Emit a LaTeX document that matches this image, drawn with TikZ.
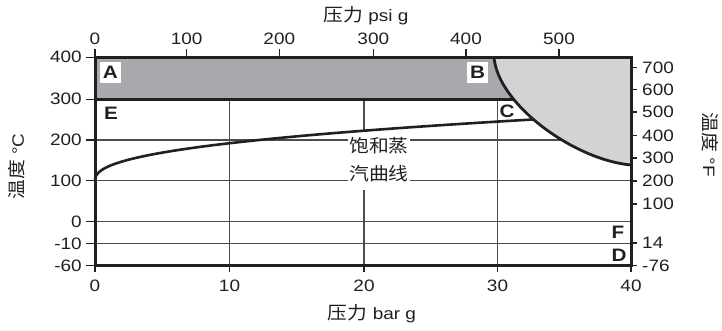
\documentclass[tikz,border=0pt]{standalone}
\usepackage{fontspec}
\setmainfont{Liberation Sans}[FakeStretch=1.15]
\newfontfamily\cjk{Noto Sans CJK SC}[FakeStretch=1.1]
\definecolor{ink}{RGB}{35,31,32}
\definecolor{bandgray}{RGB}{167,169,172}
\definecolor{capgray}{RGB}{209,211,212}

\begin{document}
\begin{tikzpicture}[x=1pt, y=-1pt,
  frame/.style={line width=3pt, draw=ink, line join=miter},
  gridline/.style={line width=1.1pt, draw=ink!80},
  tickmark/.style={line width=1.1pt, draw=ink},
  numlbl/.style={inner sep=0pt, text=ink, font=\fontsize{16.5}{18}\selectfont},
  zone/.style={inner sep=0pt, minimum width=21pt, minimum height=21.6pt, text=ink, font=\bfseries\fontsize{18}{20}\selectfont}]
\useasboundingbox (0,0) rectangle (722,330);
\coordinate (tl) at (95,57.3);
\coordinate (tr) at (631,57.3);
\coordinate (br) at (631,265.7);
\coordinate (capTop) at (494,57.3);
\coordinate (capEnd) at (631,165);
\coordinate (capMid) at (513.5,99.3);
\draw[gridline] (229.5,99.3) -- (229.5,265.7);
\draw[gridline] (364,99.3) -- (364,265.7);
\draw[gridline] (497.5,99.3) -- (497.5,265.7);
\draw[gridline] (95,140) -- (631,140);
\draw[gridline] (95,180.5) -- (631,180.5);
\draw[gridline] (95,221.7) -- (631,221.7);
\draw[gridline] (95,243.7) -- (631,243.7);
\fill[bandgray] (tl) rectangle (520,99.3);
\fill[capgray] (capTop) .. controls (498,105) and (575,160) .. (capEnd) -- (tr) -- cycle;
\node[fill=white, align=center, inner xsep=1pt, inner ysep=8pt, text=ink, font=\cjk\fontsize{18}{28}\selectfont] (satlbl) at (379,160) {饱和蒸\\汽曲线};
\draw[line width=2.6pt, ink] plot[domain=0.1:20.93, samples=60, smooth] ({95+\x*\x}, {181-4.99*pow(\x,0.826)});
\draw[frame] (95,99.3) -- (capMid);
\draw[line width=2.8pt, ink] (capTop) .. controls (498,105) and (575,160) .. (capEnd);
\draw[frame] (tl) rectangle (br);
\node[zone, fill=white] (A) at (110.3,72.5) {A};
\node[zone, fill=white] (B) at (477.5,72.5) {B};
\node[zone] (C) at (507,111.7) {C};
\node[zone] (E) at (111,113) {E};
\node[zone] (F) at (618,232.5) {F};
\node[zone] (D) at (619,255) {D};
\draw[tickmark] (86,57.3) -- (95,57.3);
\draw[tickmark] (86,99.3) -- (95,99.3);
\draw[tickmark] (86,140) -- (95,140);
\draw[tickmark] (86,180.5) -- (95,180.5);
\draw[tickmark] (86,221.7) -- (95,221.7);
\draw[tickmark] (86,243.7) -- (95,243.7);
\draw[tickmark] (86,265.7) -- (95,265.7);
\node[numlbl, anchor=east] (c400) at (82,57.3) {400};
\node[numlbl, anchor=east] (c300) at (82,99.3) {300};
\node[numlbl, anchor=east] (c200) at (82,140) {200};
\node[numlbl, anchor=east] (c100) at (82,180.5) {100};
\node[numlbl, anchor=east] (c0) at (82,221.7) {0};
\node[numlbl, anchor=east] (cm10) at (82,243.7) {-10};
\node[numlbl, anchor=east] (cm60) at (82,265.7) {-60};
\draw[tickmark] (631,67.5) -- (637,67.5);
\draw[tickmark] (631,89.5) -- (637,89.5);
\draw[tickmark] (631,112) -- (637,112);
\draw[tickmark] (631,135.5) -- (637,135.5);
\draw[tickmark] (631,158) -- (637,158);
\draw[tickmark] (631,181) -- (637,181);
\draw[tickmark] (631,204) -- (637,204);
\draw[tickmark] (631,243) -- (637,243);
\draw[tickmark] (631,265.7) -- (637,265.7);
\node[numlbl, anchor=west] (f700) at (642,67.5) {700};
\node[numlbl, anchor=west] (f600) at (642,89.5) {600};
\node[numlbl, anchor=west] (f500) at (642,112) {500};
\node[numlbl, anchor=west] (f400) at (642,135.5) {400};
\node[numlbl, anchor=west] (f300) at (642,158) {300};
\node[numlbl, anchor=west] (f200) at (642,181) {200};
\node[numlbl, anchor=west] (f100) at (642,204) {100};
\node[numlbl, anchor=west] (f14) at (642,243) {14};
\node[numlbl, anchor=west] (fm76) at (642,265.7) {-76};
\draw[tickmark] (95,49.3) -- (95,57.3);
\draw[tickmark] (186.7,49.3) -- (186.7,57.3);
\draw[tickmark] (279.3,49.3) -- (279.3,57.3);
\draw[tickmark] (373.3,49.3) -- (373.3,57.3);
\draw[tickmark] (466,49.3) -- (466,57.3);
\draw[tickmark] (559,49.3) -- (559,57.3);
\node[numlbl] (p0) at (95,38.5) {0};
\node[numlbl] (p100) at (186.7,38.5) {100};
\node[numlbl] (p200) at (279.3,38.5) {200};
\node[numlbl] (p300) at (373.3,38.5) {300};
\node[numlbl] (p400) at (466,38.5) {400};
\node[numlbl] (p500) at (559,38.5) {500};
\draw[tickmark] (95,265.7) -- (95,272);
\draw[tickmark] (229.5,265.7) -- (229.5,272);
\draw[tickmark] (364,265.7) -- (364,272);
\draw[tickmark] (497.5,265.7) -- (497.5,272);
\draw[tickmark] (631,265.7) -- (631,272);
\node[numlbl] (b0) at (95,285.5) {0};
\node[numlbl] (b10) at (229.5,285.5) {10};
\node[numlbl] (b20) at (364,285.5) {20};
\node[numlbl] (b30) at (497.5,285.5) {30};
\node[numlbl] (b40) at (631,285.5) {40};
\node[numlbl] (psititle) at (366,16) {{\cjk\fontsize{18}{20}\selectfont 压力} psi g};
\node[numlbl] (bartitle) at (372,314) {{\cjk\fontsize{18}{20}\selectfont 压力} bar g};
\node[numlbl, rotate=90] (degc) at (17,166.5) {{\cjk\fontsize{18}{20}\selectfont 温度} °C};
\node[numlbl, rotate=-90] (degf) at (710,145) {{\cjk\fontsize{18}{20}\selectfont 温度} °F};
\end{tikzpicture}
\end{document}
